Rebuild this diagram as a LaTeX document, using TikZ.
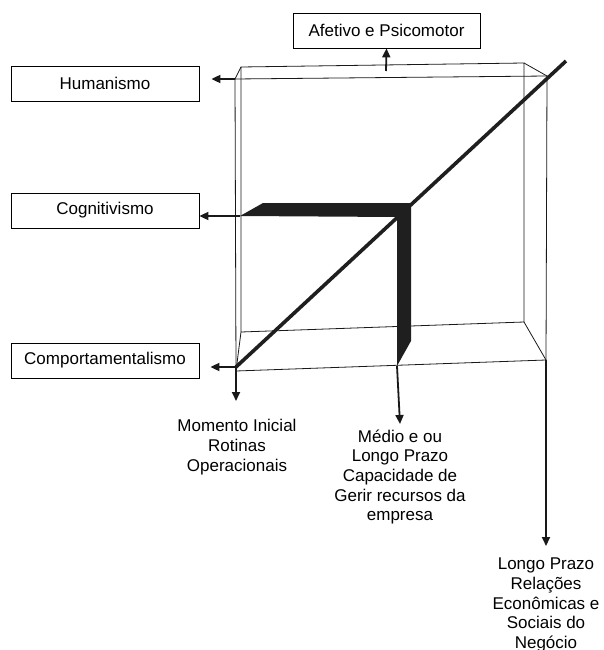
\documentclass[tikz,border=0pt]{standalone}
\usepackage{fontspec}
\setmainfont{Liberation Sans}
\usepackage{tikz}
\usetikzlibrary{arrows.meta}

\begin{document}
\begin{tikzpicture}[x=1pt,y=-1pt,>={Triangle[length=9pt,width=8pt]}]
	\tikzstyle{every node}=[font=\fontsize{17}{19.7}\selectfont]
	\tikzstyle{label box}=[draw,line width=0.8pt,minimum width=188pt,minimum height=35pt,inner sep=0pt]
	\tikzstyle{notetext}=[align=center,inner sep=0pt]
	\tikzstyle{cubeline}=[line width=0.8pt,draw=black!90]
	\tikzstyle{pointer}=[->,line width=1.8pt,draw=black!90]

	\useasboundingbox (0,0) rectangle (603,650);

	% corners of the cube
	\coordinate (bTL) at (241,67);
	\coordinate (bTR) at (524,63);
	\coordinate (bBR) at (524,322);
	\coordinate (bBL) at (241,332);
	\coordinate (fTL) at (235,79);
	\coordinate (fTR) at (547,76);
	\coordinate (fBR) at (546,360);
	\coordinate (fBL) at (236,371);
	\coordinate (o)   at (236,367);
	\coordinate (top) at (566,61);
	\coordinate (up)  at (386,71);
	\coordinate (barL) at (240,216);
	\coordinate (barB) at (397,366);
	\coordinate (tip1) at (236,401);
	\coordinate (tip2) at (400,424);
	\coordinate (tip3) at (546,546);

	\draw[cubeline] (bTL) -- (bTR) -- (bBR) -- (bBL) -- cycle;
	\draw[cubeline] (fTL) -- (fTR) -- (fBR) -- (fBL) -- cycle;
	\draw[cubeline] (bTL) -- (fTL) (bTR) -- (fTR) (bBR) -- (fBR) (bBL) -- (fBL);

	\draw[line width=3.6pt,draw=black!88] (o) -- (top);
	\fill[black!88] (barL) -- (263,203) -- (411,203) -- (411,341) -- (barB) -- (397,217) -- cycle;

	\node[label box,minimum width=187pt] (afe) at (386.5,30.5) {Afetivo e Psicomotor};
	\node[label box] (hum) at (105,83.5)  {Humanismo};
	\node[label box] (cog) at (105,210.5) {Cognitivismo};
	\node[label box] (com) at (105,360.5) {Comportamentalismo};

	\node[notetext] (ini) at (237,447) {Momento Inicial\\Rotinas\\Operacionais};
	\node[notetext] (med) at (400,477) {Médio e ou\\Longo Prazo\\Capacidade de\\Gerir recursos da\\empresa};
	\node[notetext] (lon) at (546,605) {Longo Prazo\\Relações\\Econômicas e\\Sociais do\\Negócio};

	\draw[pointer] (up) -- (afe.south);
	\draw[pointer,shorten >=12pt] (fTL) -- (fTL -| hum.east);
	\draw[pointer] (barL) -- (barL -| cog.east);
	\draw[pointer,shorten >=11pt] (o) -- (o -| com.east);
	\draw[pointer] (o) -- (tip1);
	\draw[pointer] (barB) -- (tip2);
	\draw[pointer] (fBR) -- (tip3);
\end{tikzpicture}
\end{document}
